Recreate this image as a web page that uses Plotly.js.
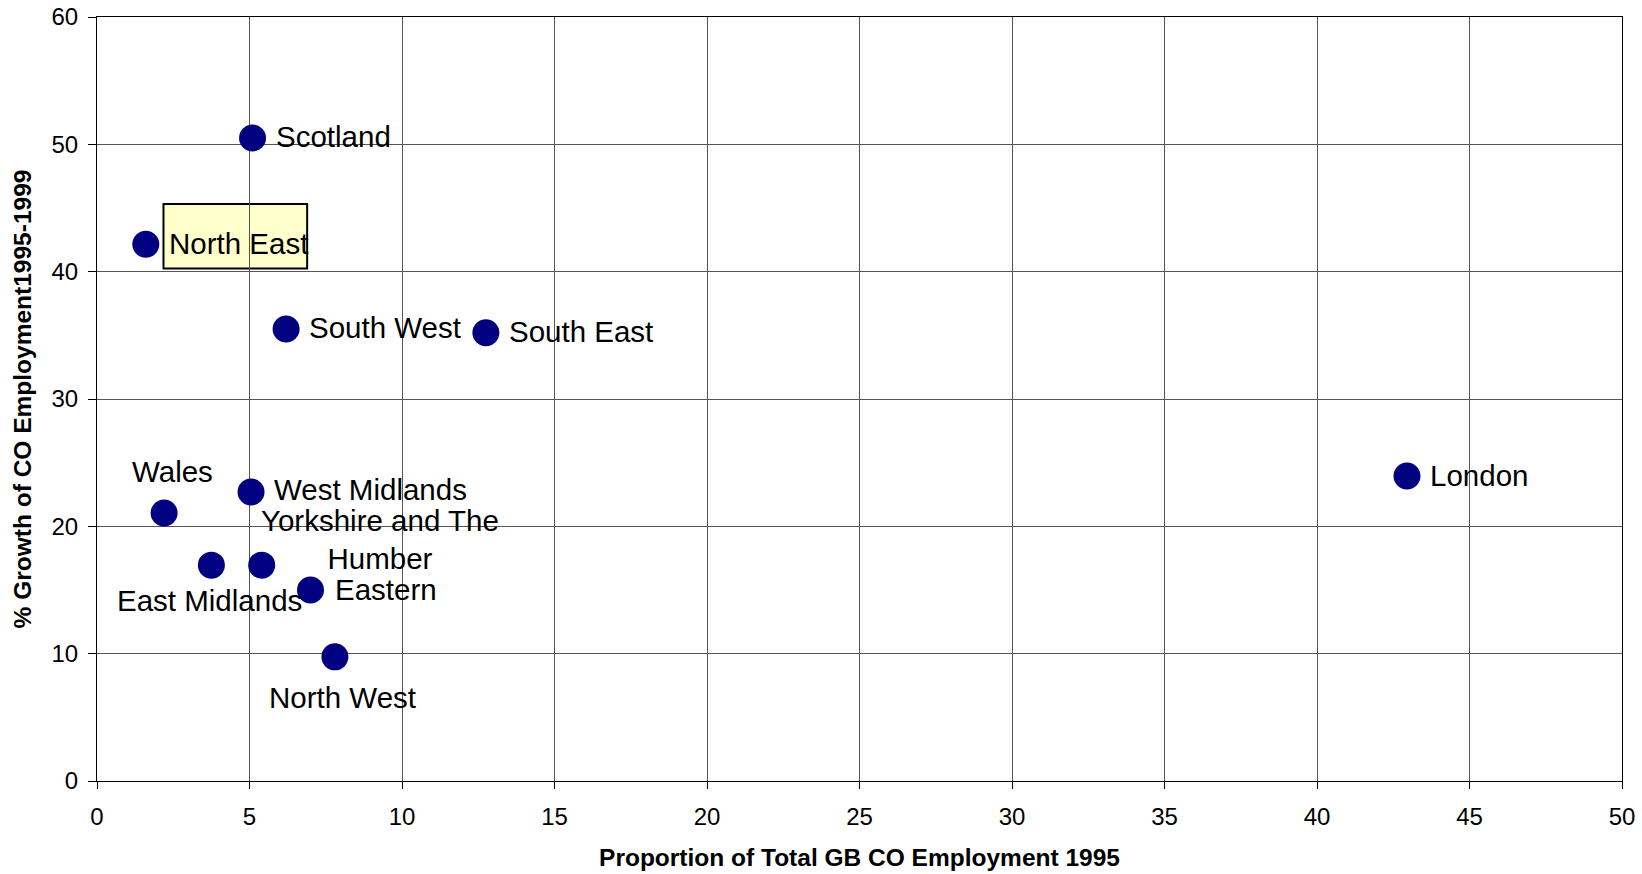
<!DOCTYPE html>
<html>
<head>
<meta charset="utf-8">
<script src="https://cdn.plot.ly/plotly-3.0.1.min.js"></script>
<style>
  html, body { margin: 0; padding: 0; background: #ffffff; }
  #chart { width: 1642px; height: 874px; }
</style>
</head>
<body>
<div id="chart"></div>
<script>
// ---- Data ----
const regions = ["Scotland", "North East", "South West", "South East", "London",
                 "Wales", "West Midlands", "East Midlands", "Yorkshire and The<br>Humber",
                 "Eastern", "North West"];
const shareOfGB1995 = [5.1, 1.6, 6.2, 12.75, 42.95, 2.2, 5.05, 3.75, 5.4, 7.0, 7.8];
const growth1995to1999 = [50.5, 42.15, 35.5, 35.2, 23.95, 21.05, 22.7, 16.95, 16.95, 15.0, 9.75];
const xTickVals = [0, 5, 10, 15, 20, 25, 30, 35, 40, 45, 50];
const yTickVals = [0, 10, 20, 30, 40, 50, 60];
const xTitle = "Proportion of Total GB CO Employment 1995";
const yTitle = "% Growth of CO Employment1995-1999";
const highlighted = "North East";

// ---- Label placement (styling, pixels relative to point) ----
const place = {
  "Scotland":      {xa: "left",   dx: 21,  dy: 1},
  "North East":    {xa: "left",   dx: 21,  dy: 1},
  "South West":    {xa: "left",   dx: 21,  dy: 1},
  "South East":    {xa: "left",   dx: 21,  dy: 1},
  "London":        {xa: "left",   dx: 21,  dy: 1},
  "Wales":         {xa: "center", dx: 8,   dy: 41},
  "West Midlands": {xa: "left",   dx: 21,  dy: 2},
  "East Midlands": {xa: "center", dx: -2,  dy: -35},
  "Yorkshire and The<br>Humber": {xa: "center", dx: 118, dy: 26},
  "Eastern":       {xa: "left",   dx: 22,  dy: 1},
  "North West":    {xa: "center", dx: 8,   dy: -41}
};

const FONT = "Liberation Sans, Arial, Helvetica, sans-serif";

const trace = {
  type: "scatter",
  mode: "markers",
  x: shareOfGB1995,
  y: growth1995to1999,
  text: regions,
  marker: { color: "#000080", size: 27, line: { width: 0 } },
  hoverinfo: "text+x+y",
  showlegend: false
};

const annotations = regions.map((name, i) => {
  const p = place[name];
  return {
    x: shareOfGB1995[i], y: growth1995to1999[i], xref: "x", yref: "y",
    text: name, showarrow: false,
    xanchor: p.xa, yanchor: "middle",
    xshift: p.dx, yshift: p.dy,
    align: "center",
    font: { family: FONT, size: 29.5, color: "#000000" }
  };
});

// highlight box behind the North East label (drawn below gridlines)
const hi = regions.indexOf(highlighted);
const shapes = [{
  type: "rect", layer: "below",
  xref: "x", yref: "y",
  x0: shareOfGB1995[hi] + 0.58, x1: shareOfGB1995[hi] + 5.29,
  y0: growth1995to1999[hi] - 1.9, y1: growth1995to1999[hi] + 3.16,
  fillcolor: "#FFFFCC",
  line: { color: "#000000", width: 2 }
}];

const layout = {
  width: 1642, height: 874,
  margin: { l: 97, r: 20, t: 17, b: 93, pad: 0 },
  paper_bgcolor: "#ffffff",
  plot_bgcolor: "#ffffff",
  font: { family: FONT, color: "#000000" },
  xaxis: {
    range: [0, 50], tickvals: xTickVals, ticktext: xTickVals.map(String),
    showgrid: true, gridcolor: "#555555", gridwidth: 1,
    zeroline: false, showline: true, linecolor: "#000000", linewidth: 1, mirror: true,
    ticks: "outside", ticklen: 7, tickcolor: "#000000", tickwidth: 1,
    ticklabelstandoff: 7,
    tickfont: { family: FONT, size: 24, color: "#000000" },
    title: { text: xTitle, font: { family: FONT, size: 24.5, color: "#000000", weight: "bold" }, standoff: 20 },
    automargin: false, fixedrange: true
  },
  yaxis: {
    range: [0, 60], tickvals: yTickVals, ticktext: yTickVals.map(String),
    showgrid: true, gridcolor: "#555555", gridwidth: 1,
    zeroline: false, showline: true, linecolor: "#000000", linewidth: 1, mirror: true,
    ticks: "outside", ticklen: 8, tickcolor: "#000000", tickwidth: 1,
    ticklabelstandoff: 5,
    tickfont: { family: FONT, size: 24, color: "#000000" },
    title: { text: yTitle, font: { family: FONT, size: 24.5, color: "#000000", weight: "bold" }, standoff: 12 },
    automargin: false, fixedrange: true
  },
  annotations: annotations,
  shapes: shapes,
  showlegend: false
};

Plotly.newPlot("chart", [trace], layout, { displayModeBar: false, staticPlot: true });
</script>
</body>
</html>
